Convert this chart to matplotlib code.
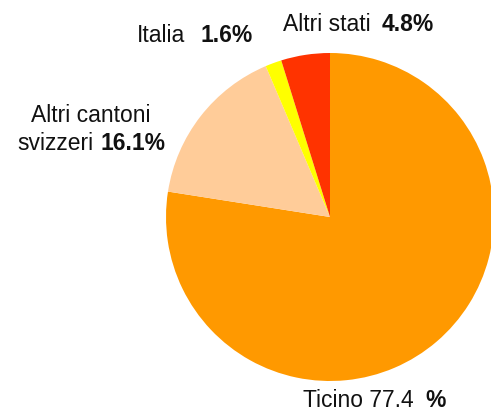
import matplotlib
matplotlib.use("Agg")
import matplotlib.pyplot as plt

# provenance shares (%), clockwise from 12 o'clock
regions = ["Ticino", "Altri cantoni svizzeri", "Italia", "Altri stati"]
shares = [77.4, 16.1, 1.6, 4.8]
colors = ["#FF9900", "#FFCC99", "#FFFF00", "#FF3300"]

W, H = 491, 414
plt.rcParams['font.family'] = ['Liberation Sans', 'DejaVu Sans']

fig = plt.figure(figsize=(W / 100, H / 100), dpi=100)
ax = fig.add_axes([0, 0, 1, 1])

# pie drawn in pixel-like coords (y measured from bottom)
ax.pie(shares, colors=colors, startangle=90, counterclock=False,
       center=(330, H - 218), radius=164, frame=True,
       wedgeprops=dict(linewidth=0))
ax.set_xlim(0, W)
ax.set_ylim(0, H)
ax.set_aspect("equal")
ax.axis("off")

FS = 16.5


def label(x, y, txt, bold=False):
    ax.text(x, H - y, txt, fontsize=FS, ha="left", va="baseline",
            fontweight="bold" if bold else "normal", color="#111111")


label(137, 42, "Italia")
label(200, 42, f"{shares[2]}%", bold=True)
label(283, 31, "Altri stati")
label(382, 31, f"{shares[3]}%", bold=True)
ax.text(91, H - 122, "Altri cantoni", fontsize=FS, ha="center",
        va="baseline", color="#111111")
label(17, 150, "svizzeri")
label(100, 150, f"{shares[1]}%", bold=True)
label(303, 407, f"Ticino {shares[0]}")
label(425, 407, "%", bold=True)

fig.savefig("out.png", dpi=100)
